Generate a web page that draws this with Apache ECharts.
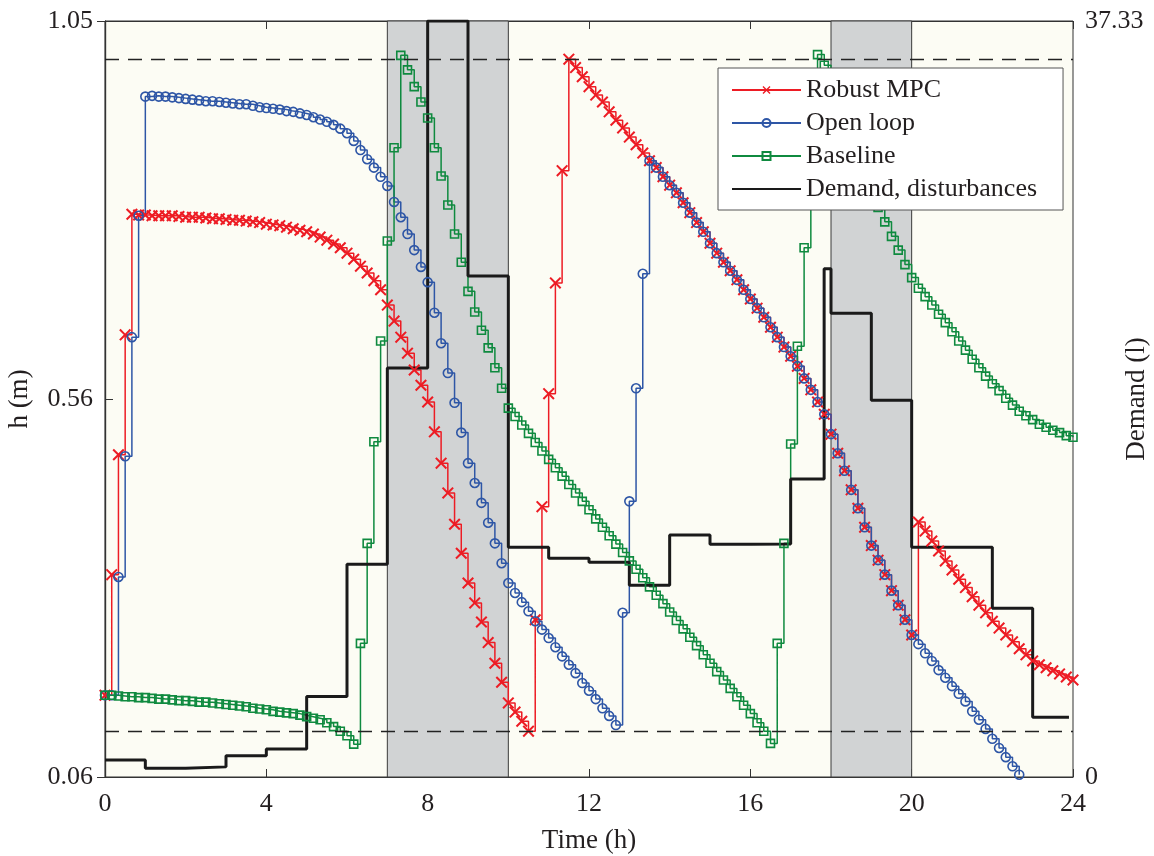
<!DOCTYPE html>
<html>
<head>
<meta charset="utf-8">
<title>Tank level under demand</title>
<script src="https://cdn.jsdelivr.net/npm/echarts@6/dist/echarts.min.js"></script>
<style>
  html, body { margin: 0; padding: 0; background: #fff; }
  #chart { width: 1154px; height: 856px; }
</style>
</head>
<body>
<div id="chart"></div>
<script>
// samples every 10 min, t = k * STEP_H
const STEP_H = 1 / 6;

// tank level h (m)
const robustMpc = [
  0.167, 0.325, 0.482, 0.639, 0.797, 0.796, 0.796, 0.795, 0.795, 0.795, 0.795, 0.794,
  0.793, 0.793, 0.793, 0.792, 0.791, 0.791, 0.790, 0.789, 0.789, 0.788, 0.787, 0.786,
  0.784, 0.783, 0.782, 0.780, 0.778, 0.776, 0.774, 0.771, 0.767, 0.763, 0.758, 0.753,
  0.746, 0.738, 0.729, 0.720, 0.710, 0.698, 0.678, 0.657, 0.636, 0.615, 0.593, 0.573,
  0.551, 0.512, 0.471, 0.432, 0.391, 0.353, 0.314, 0.288, 0.263, 0.236, 0.209, 0.184,
  0.157, 0.145, 0.133, 0.120, 0.266, 0.414, 0.562, 0.707, 0.854, 1.000, 0.989, 0.977,
  0.964, 0.953, 0.944, 0.931, 0.920, 0.910, 0.898, 0.888, 0.877, 0.867, 0.858, 0.846,
  0.835, 0.825, 0.812, 0.799, 0.786, 0.774, 0.759, 0.746, 0.734, 0.723, 0.711, 0.698,
  0.686, 0.674, 0.662, 0.649, 0.636, 0.623, 0.611, 0.598, 0.582, 0.567, 0.551, 0.535,
  0.509, 0.484, 0.461, 0.436, 0.412, 0.387, 0.363, 0.344, 0.325, 0.304, 0.285, 0.266,
  0.246, 0.394, 0.382, 0.369, 0.356, 0.343, 0.331, 0.319, 0.308, 0.296, 0.285, 0.275,
  0.264, 0.255, 0.246, 0.237, 0.228, 0.220, 0.212, 0.207, 0.203, 0.199, 0.195, 0.191,
  0.187
];
const openLoop = [
  0.167, 0.167, 0.322, 0.480, 0.636, 0.795, 0.951, 0.952, 0.951, 0.951, 0.950, 0.949,
  0.948, 0.947, 0.946, 0.945, 0.945, 0.944, 0.943, 0.942, 0.941, 0.941, 0.939, 0.937,
  0.936, 0.935, 0.934, 0.932, 0.931, 0.929, 0.927, 0.924, 0.921, 0.918, 0.914, 0.909,
  0.903, 0.893, 0.881, 0.869, 0.858, 0.846, 0.834, 0.813, 0.793, 0.771, 0.750, 0.728,
  0.708, 0.668, 0.628, 0.589, 0.550, 0.511, 0.471, 0.445, 0.419, 0.393, 0.366, 0.340,
  0.314, 0.301, 0.289, 0.277, 0.264, 0.253, 0.242, 0.230, 0.218, 0.207, 0.196, 0.183,
  0.173, 0.162, 0.150, 0.140, 0.128, 0.275, 0.421, 0.569, 0.719, 0.867, 0.858, 0.846,
  0.835, 0.825, 0.812, 0.799, 0.786, 0.774, 0.759, 0.746, 0.734, 0.723, 0.711, 0.698,
  0.686, 0.674, 0.662, 0.649, 0.636, 0.623, 0.611, 0.598, 0.582, 0.567, 0.551, 0.535,
  0.509, 0.484, 0.461, 0.436, 0.412, 0.387, 0.363, 0.344, 0.325, 0.304, 0.285, 0.266,
  0.246, 0.234, 0.222, 0.212, 0.200, 0.190, 0.179, 0.169, 0.159, 0.146, 0.135, 0.123,
  0.110, 0.098, 0.086, 0.074, 0.063
];
const baseline = [
  0.167, 0.167, 0.166, 0.165, 0.165, 0.164, 0.164, 0.163, 0.162, 0.162, 0.161, 0.160,
  0.160, 0.159, 0.158, 0.158, 0.157, 0.156, 0.155, 0.154, 0.153, 0.152, 0.150, 0.149,
  0.148, 0.146, 0.145, 0.144, 0.143, 0.141, 0.139, 0.137, 0.135, 0.131, 0.126, 0.120,
  0.114, 0.103, 0.235, 0.366, 0.499, 0.631, 0.762, 0.884, 1.005, 0.986, 0.964, 0.944,
  0.923, 0.884, 0.847, 0.809, 0.771, 0.734, 0.696, 0.669, 0.645, 0.622, 0.596, 0.569,
  0.543, 0.532, 0.521, 0.510, 0.498, 0.487, 0.476, 0.465, 0.454, 0.443, 0.432, 0.421,
  0.410, 0.398, 0.387, 0.376, 0.365, 0.354, 0.343, 0.332, 0.321, 0.309, 0.298, 0.287,
  0.276, 0.265, 0.254, 0.243, 0.232, 0.220, 0.209, 0.198, 0.187, 0.176, 0.165, 0.154,
  0.143, 0.131, 0.120, 0.104, 0.235, 0.366, 0.496, 0.624, 0.753, 0.881, 1.006, 0.992,
  0.969, 0.944, 0.920, 0.896, 0.872, 0.848, 0.826, 0.806, 0.787, 0.768, 0.750, 0.731,
  0.714, 0.700, 0.689, 0.678, 0.666, 0.655, 0.643, 0.631, 0.619, 0.607, 0.596, 0.585,
  0.575, 0.566, 0.556, 0.547, 0.539, 0.533, 0.528, 0.522, 0.518, 0.514, 0.511, 0.507,
  0.505
];

// demand / disturbance, right axis
const demandHours = [0, 1, 2, 3, 4, 5, 6, 7, 8, 9, 10, 11, 12, 13, 14, 15, 16, 17, 17.83, 18, 19, 20, 22, 23, 23.9];
const demandLitres = [0.84, 0.43, 0.5, 1.05, 1.38, 3.97, 10.5, 20.2, 37.33, 24.74, 11.34, 10.8, 10.6, 9.47, 11.95, 11.49, 11.5, 14.72, 25.1, 22.9, 18.6, 11.34, 8.33, 2.95, 2.95];

const levelLimits = [1.0, 0.117];
const shadedWindows = [[7, 10], [18, 20]];
const levelTicks = [0.06, 0.555, 1.05];
const levelTickLabels = ['0.06', '0.56', '1.05'];
const demandTicks = [0, 37.33];
const demandTickLabels = ['0', '37.33'];

const serif = 'Liberation Serif, Times New Roman, serif';
const textColor = '#231f20';
const crossPath = 'path://M0,1.2L1.2,0L5,3.8L8.8,0L10,1.2L6.2,5L10,8.8L8.8,10L5,6.2L1.2,10L0,8.8L3.8,5Z';

function toPairs(values) {
  return values.map((v, k) => [k * STEP_H, v]);
}
function nearestLabel(ticks, labels, v) {
  let best = 0;
  ticks.forEach((t, i) => { if (Math.abs(t - v) < Math.abs(ticks[best] - v)) best = i; });
  return labels[best];
}

const chart = echarts.init(document.getElementById('chart'));

const levelSeries = (name, values, color, symbol, size, filled) => ({
  name: name,
  type: 'line',
  step: 'end',
  data: toPairs(values),
  symbol: symbol,
  symbolSize: size,
  showAllSymbol: true,
  lineStyle: { color: color, width: 1.5 },
  itemStyle: filled
    ? { color: color }
    : { color: 'rgba(0,0,0,0)', borderColor: color, borderWidth: 1.6 },
  emphasis: { disabled: true },
  z: 3
});

const axisName = { fontFamily: serif, fontSize: 27, color: textColor };
const axisText = { fontFamily: serif, fontSize: 26, color: textColor };

const option = {
  animation: false,
  backgroundColor: '#ffffff',
  grid: {
    left: 105, right: 81, top: 21, bottom: 79,
    outerBoundsMode: 'none',
    show: true, backgroundColor: '#fcfcf4', borderColor: '#333', borderWidth: 1
  },
  legend: {
    left: 718, top: 68, orient: 'vertical',
    data: [
      { name: 'Robust MPC' },
      { name: 'Open loop' },
      { name: 'Baseline' },
      { name: 'Demand, disturbances', itemStyle: { color: 'rgba(0,0,0,0)', borderWidth: 0 } }
    ],
    itemWidth: 69, itemHeight: 10, itemGap: 7,
    backgroundColor: '#ffffff', borderColor: '#555', borderWidth: 1,
    padding: [9, 26, 8, 13],
    selectedMode: false,
    textStyle: { fontFamily: serif, fontSize: 26, color: textColor, lineHeight: 26 }
  },
  xAxis: [{
    type: 'value', min: 0, max: 24, interval: 4, position: 'bottom',
    name: 'Time (h)', nameLocation: 'middle', nameGap: 50,
    nameTextStyle: axisName,
    axisLine: { show: true, lineStyle: { color: '#333', width: 1.2 } },
    axisTick: { inside: true, length: 8, lineStyle: { color: '#333' } },
    axisLabel: Object.assign({ margin: 14 }, axisText),
    splitLine: { show: false }
  }, {
    type: 'value', min: 0, max: 24, interval: 4, position: 'top',
    axisLine: { show: true, lineStyle: { color: '#333', width: 1.2 } },
    axisTick: { inside: true, length: 8, lineStyle: { color: '#333' } },
    axisLabel: { show: false },
    splitLine: { show: false }
  }],
  yAxis: [{
    type: 'value', min: 0.06, max: 1.05, position: 'left',
    name: 'h (m)', nameLocation: 'middle', nameGap: 72, nameRotate: 90,
    nameMoveOverlap: false,
    nameTextStyle: axisName,
    axisLine: { show: true, lineStyle: { color: '#333', width: 1.2 } },
    axisTick: { inside: true, length: 8, customValues: levelTicks, lineStyle: { color: '#333' } },
    axisLabel: Object.assign({
      customValues: levelTicks, margin: 12,
      formatter: v => nearestLabel(levelTicks, levelTickLabels, v)
    }, axisText),
    splitLine: { show: false }
  }, {
    type: 'value', min: 0, max: 37.33, position: 'right',
    name: 'Demand (l)', nameLocation: 'middle', nameGap: 50, nameRotate: 90,
    nameMoveOverlap: false,
    nameTextStyle: axisName,
    axisLine: { show: true, lineStyle: { color: '#333', width: 1.2 } },
    axisTick: { inside: true, length: 8, customValues: demandTicks, lineStyle: { color: '#333' } },
    axisLabel: Object.assign({
      customValues: demandTicks, margin: 12,
      formatter: v => nearestLabel(demandTicks, demandTickLabels, v)
    }, axisText),
    splitLine: { show: false }
  }],
  series: [
    Object.assign(levelSeries('Robust MPC', robustMpc, '#ed1c24', crossPath, 12, true), {
      markArea: {
        silent: true,
        itemStyle: { color: '#d1d3d4', borderColor: '#3a3a3a', borderWidth: 1 },
        data: shadedWindows.map(w => [{ xAxis: w[0] }, { xAxis: w[1] }])
      },
      markLine: {
        silent: true, symbol: 'none', label: { show: false },
        lineStyle: { color: '#222', type: [14, 9], width: 1.3 },
        data: levelLimits.map(v => ({ yAxis: v }))
      }
    }),
    levelSeries('Open loop', openLoop, '#2e56a6', 'circle', 9, false),
    levelSeries('Baseline', baseline, '#0f8a3f', 'rect', 8, false),
    {
      name: 'Demand, disturbances',
      type: 'line', step: 'end', yAxisIndex: 1,
      data: demandHours.map((t, i) => [t, demandLitres[i]]),
      symbol: 'none',
      lineStyle: { color: '#1a1a1a', width: 3 },
      itemStyle: { color: '#1a1a1a' },
      emphasis: { disabled: true },
      z: 3
    }
  ]
};

chart.setOption(option);
</script>
</body>
</html>
